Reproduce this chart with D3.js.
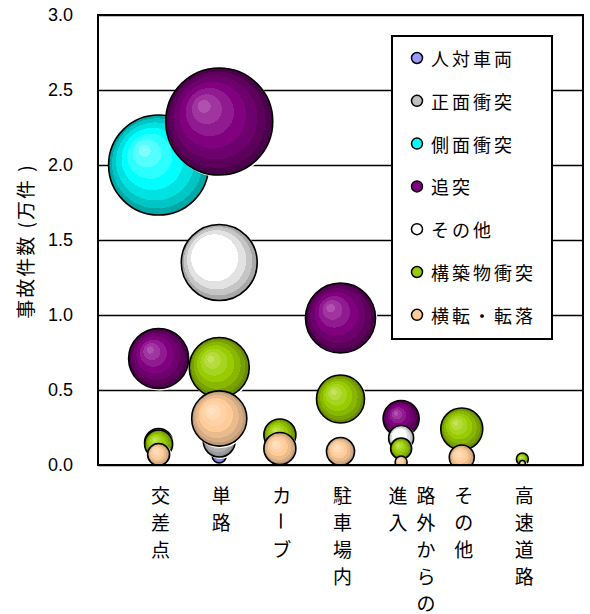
<!DOCTYPE html>
<html>
<head>
<meta charset="utf-8">
<script src="https://cdn.jsdelivr.net/npm/d3@7"></script>
<style>
  body { margin: 0; background: #fff; }
  svg { display: block; }
</style>
</head>
<body>
<div id="chart"></div>
<script>
// categories on the x axis (placed at x = 1..7)
const categories = ['交差点', '単路', 'カーブ', '駐車場内', '路外からの進入', 'その他', '高速道路'];
const seriesNames = ['人対車両', '正面衝突', '側面衝突', '追突', 'その他', '構築物衝突', '横転・転落'];
const yTicks = [0, 0.5, 1.0, 1.5, 2.0, 2.5, 3.0];

// accident counts (万件) per category, null = no bubble
const pedestrianY   = [null, 0.06, null, null, null, null, null];
const headOnY       = [0.15, 0.16, null, null, null, null, null];
const sideY         = [2.00, null, null, null, null, null, null];
const rearEndY      = [0.71, 2.29, null, 0.98, 0.31, null, null];
const otherY        = [null, 1.35, null, null, 0.18, null, null];
const structureY    = [0.14, 0.65, 0.20, 0.44, 0.11, 0.24, 0.04];
const rolloverY     = [0.07, 0.31, 0.11, 0.09, 0.02, 0.05, 0.01];

// bubble sizes (area)
const pedestrianSize = [null, 0.49, null, null, null, null, null];
const headOnSize     = [1.96, 2.56, null, null, null, null, null];
const sideSize       = [25.0, null, null, null, null, null, null];
const rearEndSize    = [9.0, 28.6, null, 12.25, 3.24, null, null];
const otherSize      = [null, 14.4, null, null, 1.56, null, null];
const structureSize  = [1.96, 9.0, 2.56, 5.76, 1.1, 4.4, 0.36];
const rolloverSize   = [1.21, 7.6, 2.56, 1.96, 0.36, 1.56, 0.09];

const yValues = [pedestrianY, headOnY, sideY, rearEndY, otherY, structureY, rolloverY];
const sizeValues = [pedestrianSize, headOnSize, sideSize, rearEndSize, otherSize, structureSize, rolloverSize];

// light / base / dark shades for the 3D bubble look
const seriesColors = [
  ['#d4d4ff', '#9999ff', '#6464b4'],
  ['#ececec', '#c0c0c0', '#8a8a8a'],
  ['#80ffff', '#00ffff', '#00a8a8'],
  ['#b050b0', '#800080', '#4a004a'],
  ['#ffffff', '#ffffff', '#a8a8a8'],
  ['#c4e35a', '#99cc00', '#688c00'],
  ['#ffe2c4', '#ffcc99', '#bf9b76']
];

const width = 590, height = 614;
const margin = {top: 15, right: 7, bottom: 149, left: 98};
const innerW = width - margin.left - margin.right;
const innerH = height - margin.top - margin.bottom;

const svg = d3.select('#chart').append('svg')
  .attr('width', width)
  .attr('height', height);

const defs = svg.append('defs');

// stepped radial gradients, focus up-left
const bandEdges = [0, 0.12, 0.28, 0.45, 0.62, 0.78, 0.9, 1.0];
seriesColors.forEach((c, i) => {
  const interp = d3.piecewise(d3.interpolateRgb, c);
  const grad = defs.append('radialGradient')
    .attr('id', 'g' + i)
    .attr('cx', 0.5).attr('cy', 0.5).attr('r', 0.5)
    .attr('fx', 0.34).attr('fy', 0.34);
  for (let b = 0; b < bandEdges.length - 1; b++) {
    const col = interp(b / (bandEdges.length - 2));
    grad.append('stop').attr('offset', bandEdges[b]).attr('stop-color', col);
    grad.append('stop').attr('offset', bandEdges[b + 1]).attr('stop-color', col);
  }
});

defs.append('clipPath').attr('id', 'plotClip')
  .append('rect').attr('width', innerW).attr('height', innerH);

const g = svg.append('g').attr('transform', `translate(${margin.left},${margin.top})`);

const x = d3.scaleLinear().domain([0, 8]).range([0, innerW]);
const y = d3.scaleLinear().domain([0, 3]).range([innerH, 0]);
const maxSize = d3.max(sizeValues.flat());
const r = d3.scaleSqrt().domain([0, maxSize]).range([0, 53.5]);

// y axis with gridlines
const yAxis = g.append('g')
  .call(d3.axisLeft(y).tickValues(yTicks).tickFormat(d3.format('.1f'))
    .tickSize(-innerW).tickPadding(25));
yAxis.select('.domain').remove();
yAxis.selectAll('.tick line').attr('stroke', '#000').attr('stroke-width', 1.6);
yAxis.selectAll('.tick text')
  .attr('font-family', '"Liberation Sans", Arial, sans-serif')
  .attr('font-size', 18)
  .attr('fill', '#000');

// bubbles, drawn series by series
const bubbles = [];
yValues.forEach((vals, s) => {
  vals.forEach((v, k) => {
    if (v !== null) bubbles.push({s, k, v, size: sizeValues[s][k]});
  });
});

const plot = g.append('g').attr('clip-path', 'url(#plotClip)');
const bubble = plot.selectAll('g.bubble')
  .data(bubbles)
  .join('g').attr('class', 'bubble');

bubble.append('circle')
  .attr('cx', d => x(d.k + 1) + 1.2)
  .attr('cy', d => y(d.v) + 1.2)
  .attr('r', d => r(d.size))
  .attr('fill', 'none')
  .attr('stroke', '#fff')
  .attr('stroke-width', 1.6);

bubble.append('circle')
  .attr('cx', d => x(d.k + 1))
  .attr('cy', d => y(d.v))
  .attr('r', d => r(d.size))
  .attr('fill', d => `url(#g${d.s})`)
  .attr('stroke', '#000')
  .attr('stroke-width', 1.6);

// plot frame
g.append('rect')
  .attr('width', innerW).attr('height', innerH)
  .attr('fill', 'none').attr('stroke', '#000').attr('stroke-width', 2);

// vertical category labels (columns right to left, 5 chars each)
const cjk = '"Noto Sans CJK JP", "Noto Sans CJK SC", sans-serif';
categories.forEach((name, k) => {
  const cols = [];
  for (let i = 0; i < name.length; i += 5) cols.push(name.slice(i, i + 5));
  cols.forEach((col, j) => {
    const cx = x(k + 1) + 2 + (cols.length - 1) * 23 - j * 28;
    Array.from(col).forEach((ch, n) => {
      const cy = 494 - margin.top + n * 27;
      const t = g.append('text')
        .attr('x', cx).attr('y', cy)
        .attr('text-anchor', 'middle')
        .attr('dominant-baseline', 'central')
        .attr('font-family', cjk)
        .attr('font-size', 19)
        .text(ch);
      if (ch === 'ー') t.attr('transform', `rotate(90,${cx},${cy})`);
    });
  });
});

// y axis title
svg.append('text')
  .attr('transform', 'translate(24,241) rotate(-90)')
  .attr('text-anchor', 'middle')
  .attr('dominant-baseline', 'central')
  .attr('font-family', cjk)
  .attr('font-size', 19)
  .attr('letter-spacing', 2)
  .text('事故件数 (万件 )');

// legend
const legend = svg.append('g');
legend.append('rect')
  .attr('x', 392).attr('y', 36).attr('width', 160).attr('height', 303)
  .attr('fill', '#fff').attr('stroke', '#000').attr('stroke-width', 2);

const item = legend.selectAll('g.item')
  .data(seriesNames)
  .join('g').attr('class', 'item')
  .attr('transform', (d, i) => `translate(417,${58 + i * 42.8})`);

item.append('circle')
  .attr('r', 5.5)
  .attr('fill', (d, i) => seriesColors[i][1])
  .attr('stroke', '#000').attr('stroke-width', 1.5);

item.append('text')
  .attr('x', 14)
  .attr('dominant-baseline', 'central')
  .attr('font-family', cjk)
  .attr('font-size', 18)
  .attr('letter-spacing', 3)
  .text(d => d);
</script>
</body>
</html>
